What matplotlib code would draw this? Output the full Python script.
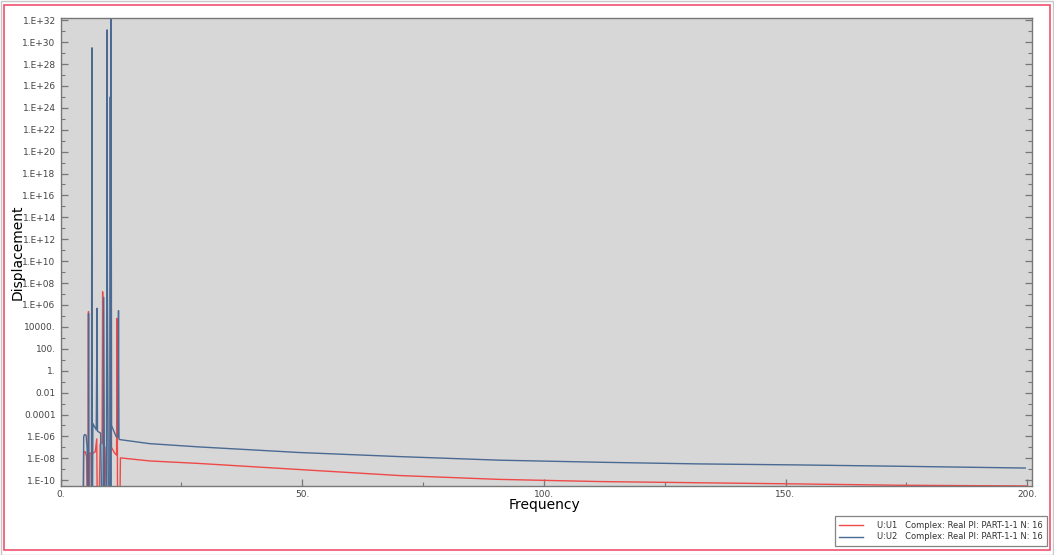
import numpy as np
import matplotlib.pyplot as plt
from matplotlib.ticker import FixedLocator, FuncFormatter
from matplotlib.patches import Rectangle

# U:U1 (red) - frequency / displacement, 1e-12 marks points dropping below the axis floor
freq_u1 = [0, 4.75, 4.8, 5.1, 5.4, 5.55, 5.7, 5.79, 5.85, 6.0, 6.1, 6.8, 7.2, 7.5, 7.6,
           8.0, 8.2, 8.6, 8.72, 8.8, 9.2, 9.5, 10.3, 10.47, 10.55, 11.2, 11.6, 11.7, 11.8,
           12.3, 12.4, 18.4, 28.7, 49.4, 70.0, 90.7, 111.4, 132.0, 152.7, 173.3, 200.0]
disp_u1 = [1e-12, 1e-12, 4e-8, 4e-8, 1.5e-8, 1e-12, 1e-12, 2.5e5, 1e-12, 1e-12, 3e-8, 3e-8, 4e-8,
           6e-7, 1e-12, 1e-12, 2e-7, 3e-7, 1.6e7, 2e-7, 1e-7, 1e-12, 1e-12, 1e31, 1e-7, 3e-8,
           2e-8, 6e4, 1e-12, 1e-12, 1.1e-8, 5.8e-9, 3.4e-9, 9.5e-10, 2.7e-10, 1.2e-10,
           7.6e-11, 5.9e-11, 4.6e-11, 3.5e-11, 3.0e-11]

# U:U2 (blue)
freq_u2 = [0, 4.7, 4.8, 5.0, 5.3, 5.5, 5.6, 5.75, 5.8, 5.85, 6.4, 6.5, 6.55, 6.6, 6.7, 7.4,
           7.57, 7.65, 8.3, 8.5, 8.8, 8.95, 9.1, 9.5, 9.64, 9.7, 9.9, 10.2, 10.3, 10.4,
           10.47, 10.55, 11.5, 11.9, 12.0, 12.1, 12.2, 18.4, 28.7, 49.4, 70.0, 90.7,
           111.4, 132.0, 152.7, 173.3, 199.6]
disp_u2 = [1e-12, 1e-12, 1e-6, 1.5e-6, 1.3e-6, 1e-7, 1e-12, 1e-12, 1.6e5, 1e-12, 1e-12, 3e29,
           3e9, 1e-12, 1.5e-5, 4e-6, 5e5, 3e-6, 2e-6, 1e-12, 1e-12, 5e6, 1e-12, 1e-12, 1.3e31,
           2e8, 1e-12, 1e-12, 1e25, 1e-12, 2e32, 1e-5, 1e-6, 9e-7, 3e5, 6e-7, 5.2e-7, 2.2e-7,
           1.1e-7, 3.4e-8, 1.45e-8, 6.8e-9, 4.4e-9, 3.1e-9, 2.5e-9, 1.9e-9, 1.3e-9]

labels = ["U:U1   Complex: Real PI: PART-1-1 N: 16",
          "U:U2   Complex: Real PI: PART-1-1 N: 16"]
x_ticks = [0, 50, 100, 150, 200]


def y_fmt(v, pos):
    e = int(round(np.log10(v)))
    if e >= 5 or e <= -5:
        return "1.E%+03d" % e
    if e >= 0:
        return "%d." % (10 ** e)
    return "%.*f" % (-e, v)


fig = plt.figure(figsize=(10.54, 5.55), dpi=100)
fig.patch.set_facecolor("white")
W, H = 1054, 555
fig.patches.append(Rectangle((0.5 / W, 0.5 / H), 1 - 1.5 / W, 1 - 1.5 / H, transform=fig.transFigure,
                             fill=False, edgecolor="#c8c8c8", lw=1))
fig.patches.append(Rectangle((4 / W, 5 / H), 1046 / W, 545 / H, transform=fig.transFigure,
                             fill=False, edgecolor="#f0506e", lw=1.2))

ax = fig.add_axes([60.5 / W, (H - 485.5) / H, 971.5 / W, 467.5 / H])
ax.set_facecolor("#d7d7d7")

l1, = ax.plot(freq_u1, disp_u1, color="#f04848", lw=1.0)
l2, = ax.plot(freq_u2, disp_u2, color="#4a6a93", lw=1.0)

ax.set_yscale("log")
ax.set_xlim(0, 201)
ax.set_ylim(10 ** -10.48, 10 ** 32.2)

ax.yaxis.set_major_locator(FixedLocator([10.0 ** e for e in range(-10, 33, 2)]))
ax.yaxis.set_minor_locator(FixedLocator([10.0 ** e for e in range(-9, 33, 2)]))
ax.yaxis.set_major_formatter(FuncFormatter(y_fmt))
ax.yaxis.set_minor_formatter(FuncFormatter(lambda v, p: ""))
ax.set_xticks(x_ticks)
ax.set_xticklabels(["%d." % t for t in x_ticks])
ax.set_xticks([25, 75, 125, 175], minor=True)

ax.tick_params(which="both", direction="in", top=False, right=True, colors="#777777",
               labelcolor="#444444", labelsize=6.5)
ax.tick_params(which="major", length=5, width=0.9)
ax.tick_params(which="minor", length=3, width=0.8)
for s in ax.spines.values():
    s.set_color("#777777")
    s.set_linewidth(1.0)

ax.set_xlabel("Frequency", fontsize=10)
ax.set_ylabel("Displacement", fontsize=10)
ax.xaxis.set_label_coords(0.5 * 972 / 971.5 - 0.002, -(505 - 485.5) / 467.5)
ax.yaxis.set_label_coords(-(60.5 - 18) / 971.5, 0.5)
ax.xaxis.label.set_va("center")
ax.yaxis.label.set_va("center")

leg = fig.legend([l1, l2], labels, loc="lower right", bbox_to_anchor=(1047 / W, (H - 546) / H),
                 borderaxespad=0, fontsize=6, frameon=True, fancybox=False, handlelength=2.9,
                 borderpad=0.55, labelspacing=0.3, handletextpad=1.6, handleheight=0.7)
leg.get_frame().set_edgecolor("#666666")
leg.get_frame().set_linewidth(0.9)
for t in leg.get_texts():
    t.set_color("#333333")

fig.savefig("out.png", dpi=100)
